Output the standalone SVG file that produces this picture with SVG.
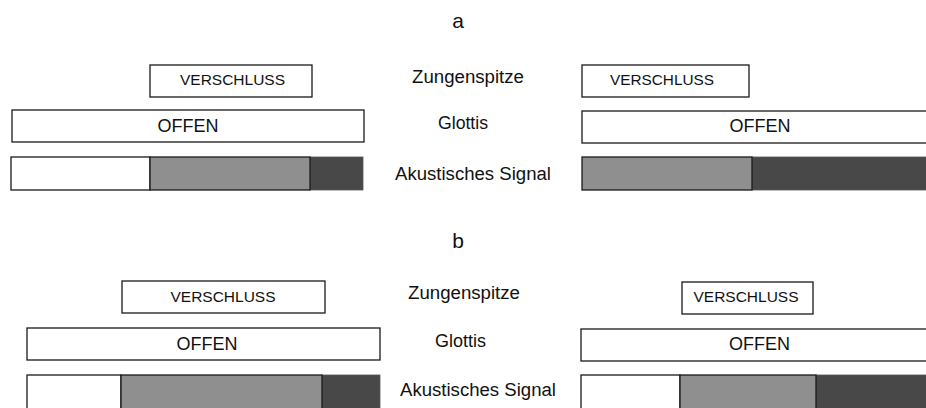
<svg xmlns="http://www.w3.org/2000/svg" width="926" height="408" viewBox="0 0 926 408">
  <style>
    text { font-family: "Liberation Sans", Arial, sans-serif; fill: #111; }
    .box { fill: #fff; stroke: #1a1a1a; stroke-width: 1.3; }
    .mid { fill: #8f8f8f; stroke: #1a1a1a; stroke-width: 1.3; }
    .dark { fill: #484848; stroke: #555; stroke-width: 0.8; }
    .lbl { font-size: 18px; }
    .small { font-size: 14.5px; text-anchor: middle; }
    .big { font-size: 18px; text-anchor: middle; }
    .head { font-size: 21px; text-anchor: middle; }
  </style>

  <rect width="926" height="408" fill="#fff"/>

  <!-- Panel a -->
  <text class="head" x="458" y="28">a</text>
  <text class="lbl" x="412" y="83" textLength="112" lengthAdjust="spacingAndGlyphs">Zungenspitze</text>
  <text class="lbl" x="438" y="129" textLength="50" lengthAdjust="spacingAndGlyphs">Glottis</text>
  <text class="lbl" x="395" y="180" textLength="156" lengthAdjust="spacingAndGlyphs">Akustisches Signal</text>

  <g id="a-left-verschluss">
    <rect class="box" x="150" y="65" width="162" height="32"/>
    <text class="small" x="232.5" y="85" textLength="105" lengthAdjust="spacingAndGlyphs">VERSCHLUSS</text>
  </g>
  <g id="a-left-offen">
    <rect class="box" x="12" y="110" width="352" height="32"/>
    <text class="big" x="188" y="132">OFFEN</text>
  </g>
  <g id="a-left-signal">
    <rect class="dark" x="310" y="157" width="53" height="33"/>
    <rect class="box" x="11" y="157" width="139" height="33"/>
    <rect class="mid" x="150" y="157" width="160" height="33"/>
  </g>

  <g id="a-right-verschluss">
    <rect class="box" x="582" y="65" width="167" height="32"/>
    <text class="small" x="662" y="85" textLength="104" lengthAdjust="spacingAndGlyphs">VERSCHLUSS</text>
  </g>
  <g id="a-right-offen">
    <rect class="box" x="582" y="111" width="360" height="32"/>
    <text class="big" x="760" y="132">OFFEN</text>
  </g>
  <g id="a-right-signal">
    <rect class="dark" x="752" y="157" width="190" height="33"/>
    <rect class="mid" x="582" y="157" width="170" height="33"/>
  </g>

  <!-- Panel b -->
  <text class="head" x="458" y="248">b</text>
  <text class="lbl" x="408" y="299" textLength="112" lengthAdjust="spacingAndGlyphs">Zungenspitze</text>
  <text class="lbl" x="435" y="346.5" textLength="51" lengthAdjust="spacingAndGlyphs">Glottis</text>
  <text class="lbl" x="400" y="395.5" textLength="156" lengthAdjust="spacingAndGlyphs">Akustisches Signal</text>

  <g id="b-left-verschluss">
    <rect class="box" x="122" y="281" width="203" height="32"/>
    <text class="small" x="223" y="301.5" textLength="105" lengthAdjust="spacingAndGlyphs">VERSCHLUSS</text>
  </g>
  <g id="b-left-offen">
    <rect class="box" x="27" y="328" width="353" height="32"/>
    <text class="big" x="207" y="350">OFFEN</text>
  </g>
  <g id="b-left-signal">
    <rect class="dark" x="322" y="375" width="58" height="40"/>
    <rect class="box" x="27" y="375" width="94" height="40"/>
    <rect class="mid" x="121" y="375" width="201" height="40"/>
  </g>

  <g id="b-right-verschluss">
    <rect class="box" x="682" y="282" width="131" height="32"/>
    <text class="small" x="746" y="302" textLength="105" lengthAdjust="spacingAndGlyphs">VERSCHLUSS</text>
  </g>
  <g id="b-right-offen">
    <rect class="box" x="581" y="329" width="360" height="32"/>
    <text class="big" x="759.5" y="350">OFFEN</text>
  </g>
  <g id="b-right-signal">
    <rect class="dark" x="816" y="375" width="126" height="40"/>
    <rect class="box" x="581" y="375" width="99" height="40"/>
    <rect class="mid" x="680" y="375" width="136" height="40"/>
  </g>
</svg>
